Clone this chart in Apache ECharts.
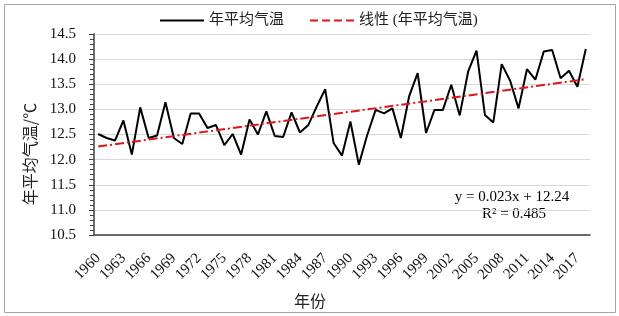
<!DOCTYPE html>
<html>
<head>
<meta charset="utf-8">
<script src="https://cdn.jsdelivr.net/npm/echarts@6/dist/echarts.min.js"></script>
<style>
  html, body { margin: 0; padding: 0; background: #fff; }
  #main { width: 619px; height: 316px; }
</style>
</head>
<body>
<div id="main"></div>
<script>
var years = [];
for (var y = 1960; y <= 2018; y++) years.push(String(y));

// annual mean temperature
var temps = [
  12.51, 12.43, 12.38, 12.78, 12.10, 13.04, 12.43, 12.48, 13.14, 12.43,
  12.31, 12.92, 12.92, 12.63, 12.69, 12.29, 12.51, 12.10, 12.80, 12.50,
  12.96, 12.47, 12.45, 12.94, 12.54, 12.69, 13.06, 13.40, 12.33, 12.08,
  12.76, 11.90, 12.49, 12.99, 12.92, 13.02, 12.43, 13.27, 13.72, 12.53,
  12.99, 12.99, 13.49, 12.88, 13.75, 14.17, 12.89, 12.74, 13.90, 13.57,
  13.02, 13.80, 13.59, 14.15, 14.18, 13.62, 13.77, 13.45, 14.20
];

// linear trend end points (first and last year)
var trendEnds = [12.26, 13.60];

var serif = '"Liberation Serif", "Noto Sans CJK SC", serif';
var cjk = '"Noto Sans CJK SC", sans-serif';

var myChart = echarts.init(document.getElementById('main'));

option = {
    animation: false,
    textStyle: { fontFamily: serif, color: '#000' },
    legend: {
        left: 155,
        top: 8,
        itemWidth: 44,
        itemHeight: 10,
        itemGap: 26,
        textStyle: { fontSize: 15, color: '#222', fontFamily: serif },
        data: [
            { name: '年平均气温', icon: 'path://M0,4 L44,4 L44,6 L0,6 Z' },
            { name: '线性 (年平均气温)', icon: 'path://M0,4 L8,4 L8,6 L0,6 Z M12,4 L20,4 L20,6 L12,6 Z M24,4 L32,4 L32,6 L24,6 Z M36,4 L44,4 L44,6 L36,6 Z' }
        ]
    },
    grid: { left: 94, right: 29, top: 34, bottom: 81 },
    xAxis: {
        type: 'category',
        data: years,
        boundaryGap: true,
        axisLine: { lineStyle: { color: '#404040', width: 1.5 } },
        axisTick: { inside: true, length: 4, interval: 0, lineStyle: { color: '#404040' } },
        axisLabel: { interval: 2, rotate: 45, fontSize: 15, color: '#111', margin: 21 },
        splitLine: { show: false }
    },
    yAxis: {
        type: 'value',
        min: 10.5,
        max: 14.5,
        interval: 0.5,
        axisLine: { show: true, lineStyle: { color: '#404040', width: 1.5 } },
        axisTick: { show: true, length: 5, lineStyle: { color: '#404040' } },
        minorTick: { show: true, splitNumber: 5, length: 4, lineStyle: { color: '#404040', width: 1 } },
        axisLabel: { fontSize: 15, color: '#111', margin: 18, formatter: function (v) { return v.toFixed(1); } },
        splitLine: { show: true, lineStyle: { color: '#d9d9d9', width: 1 } }
    },
    series: [
        {
            name: '年平均气温',
            type: 'line',
            data: temps,
            symbol: 'none',
            lineStyle: { color: '#000', width: 2 },
            itemStyle: { color: '#000' }
        },
        {
            name: '线性 (年平均气温)',
            type: 'line',
            data: [[years[0], trendEnds[0]], [years[years.length - 1], trendEnds[1]]],
            symbol: 'none',
            lineStyle: { color: '#e0141b', width: 2, type: [9, 3, 2, 3] },
            itemStyle: { color: '#e0141b' }
        }
    ],
    graphic: [
        {
            type: 'rect',
            shape: { x: 4.5, y: 4.5, width: 611, height: 308 },
            style: { fill: 'none', stroke: '#a6a6a6', lineWidth: 1 },
            silent: true
        },
        {
            type: 'text',
            x: 30,
            y: 154,
            rotation: Math.PI / 2,
            style: { text: '年平均气温/℃', fontSize: 16, fontFamily: cjk, fill: '#222', align: 'center', verticalAlign: 'middle' }
        },
        {
            type: 'text',
            x: 310,
            y: 301,
            style: { text: '年份', fontSize: 16, fontFamily: cjk, fill: '#222', align: 'center', verticalAlign: 'middle' }
        },
        {
            type: 'text',
            x: 512,
            y: 197,
            style: { text: 'y = 0.023x + 12.24', fontSize: 15, fontFamily: serif, fill: '#000', align: 'center', verticalAlign: 'middle' }
        },
        {
            type: 'text',
            x: 514,
            y: 214,
            style: { text: 'R² = 0.485', fontSize: 15, fontFamily: serif, fill: '#000', align: 'center', verticalAlign: 'middle' }
        }
    ]
};
myChart.setOption(option);
</script>
</body>
</html>
